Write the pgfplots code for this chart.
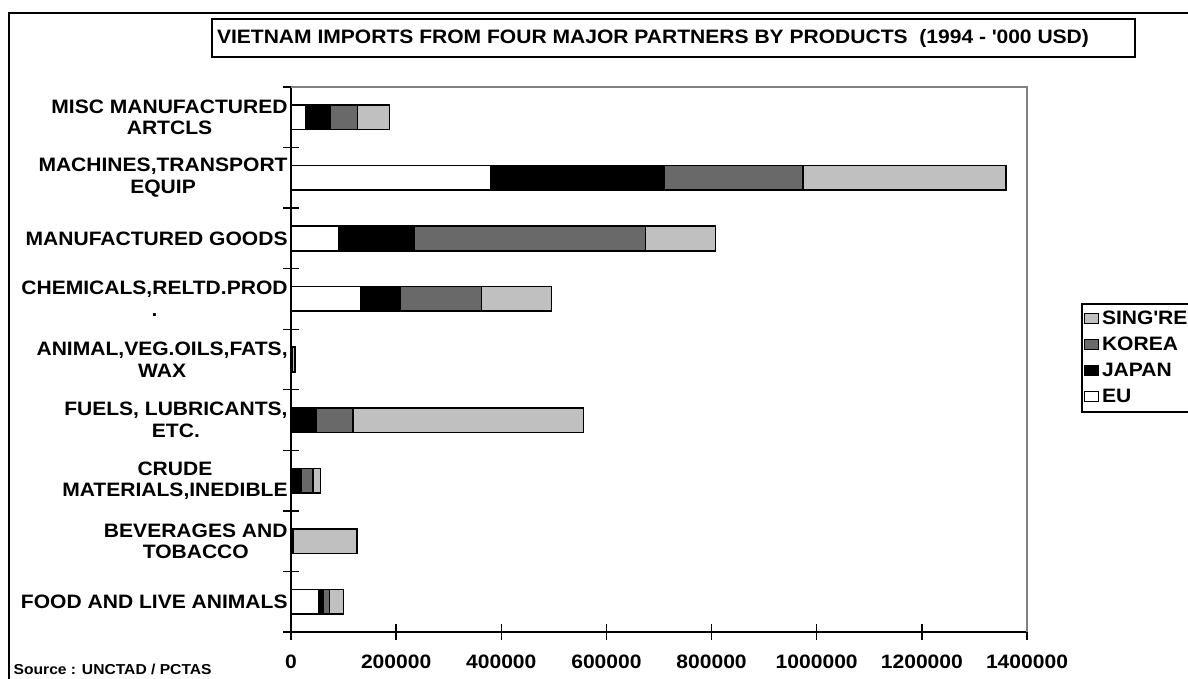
\documentclass[border=0pt]{standalone}
\usepackage{fontspec}
\setmainfont{Liberation Sans}[FakeStretch=1.085]
\usepackage{pgfplots}
\pgfplotsset{compat=1.18}
\definecolor{korea}{RGB}{105,105,105}
\definecolor{sing}{RGB}{192,192,192}
\definecolor{frame}{RGB}{128,128,128}
\begin{document}
\bfseries
\begin{tikzpicture}
\useasboundingbox (0pt,0pt) rectangle (594pt,-339.5pt);
% outer frame
\draw[line width=0.8pt] (4.5pt,-6.65pt) rectangle (610pt,-360pt);
% title box
\draw[line width=0.8pt] (106pt,-9.65pt) rectangle (567.5pt,-28.65pt);
\node[anchor=west, inner sep=0pt, font=\fontsize{9.7}{10.5}\selectfont\bfseries] at (108.3pt,-19.15pt)
  {VIETNAM IMPORTS FROM FOUR MAJOR PARTNERS BY PRODUCTS\ \ (1994 - \textquotesingle000 USD)};
% source
\node[anchor=base west, inner sep=0pt, font=\fontsize{7.2}{8}\selectfont\bfseries] at (6.65pt,-337.3pt)
  {Source : UNCTAD / PCTAS};
\begin{axis}[
  at={(145.5pt,-316pt)}, anchor=south west,
  scale only axis, width=368pt, height=272.5pt,
  xbar stacked, bar width=12.3pt,
  xmin=0, xmax=1400000, ymin=0.5, ymax=9.5,
  axis x line*=bottom, axis y line*=left,
  axis line style={line width=0.9pt, black},
  xtick={0,200000,400000,600000,800000,1000000,1200000,1400000},
  scaled x ticks=false,
  /pgf/number format/fixed, /pgf/number format/1000 sep={},
  /pgf/number format/assume math mode=true,
  tick align=center, major tick length=8pt,
  tick style={line width=0.7pt, black},
  ytick={0.5,1.5,2.5,3.5,4.5,5.5,6.5,7.5,8.5,9.5},
  yticklabels={},
  extra y ticks={1,2,3,4,5,6,7,8,9},
  extra y tick style={major tick length=0pt},
  extra y tick labels={
    {FOOD AND LIVE ANIMALS},
    {BEVERAGES AND\\TOBACCO},
    {CRUDE\\MATERIALS,INEDIBLE},
    {FUELS, LUBRICANTS,\\ETC.},
    {ANIMAL,VEG.OILS,FATS,\\WAX},
    {CHEMICALS,RELTD.PROD\\.},
    {MANUFACTURED GOODS},
    {MACHINES,TRANSPORT\\EQUIP},
    {MISC MANUFACTURED\\ARTCLS}},
  yticklabel style={align=center, font=\fontsize{9.7}{10.8}\selectfont\bfseries, inner sep=1.5pt},
  xticklabel style={font=\fontsize{9.7}{10.5}\selectfont\bfseries, yshift=-4pt},
  legend image code/.code={\draw[#1,draw=black,line width=0.6pt] (0pt,-2.5pt) rectangle (7pt,2.5pt);},
  reverse legend,
  legend style={at={(1.0734,0.6037)}, anchor=north west, draw=black, line width=0.8pt,
    font=\fontsize{9.7}{10.5}\selectfont\bfseries, legend cell align=left,
    inner xsep=1pt, inner ysep=1pt, row sep=0pt,
    nodes={inner sep=1.5pt, text height=8pt, text depth=2pt}},
  every axis plot/.append style={draw=black, line width=0.8pt},
  clip=false,
]
\addplot[fill=white] coordinates {(52000,1) (1000,2) (1000,3) (2000,4) (500,5) (132500,6) (90000,7) (379800,8) (28500,9)};
\addplot[fill=black] coordinates {(9500,1) (3000,2) (18500,3) (45000,4) (500,5) (74800,6) (144000,7) (329700,8) (45700,9)};
\addplot[fill=korea] coordinates {(11400,1) (500,2) (22000,3) (71500,4) (1500,5) (154700,6) (440600,7) (264500,8) (52000,9)};
\addplot[fill=sing] coordinates {(26600,1) (121600,2) (14500,3) (437500,4) (5500,5) (133800,6) (133100,7) (386000,8) (61000,9)};
\legend{EU,JAPAN,KOREA,SING\textquotesingle RE}
\draw[frame, line width=0.8pt] (rel axis cs:0,1) -- (rel axis cs:1,1) -- (rel axis cs:1,0);
\end{axis}
\end{tikzpicture}
\end{document}
